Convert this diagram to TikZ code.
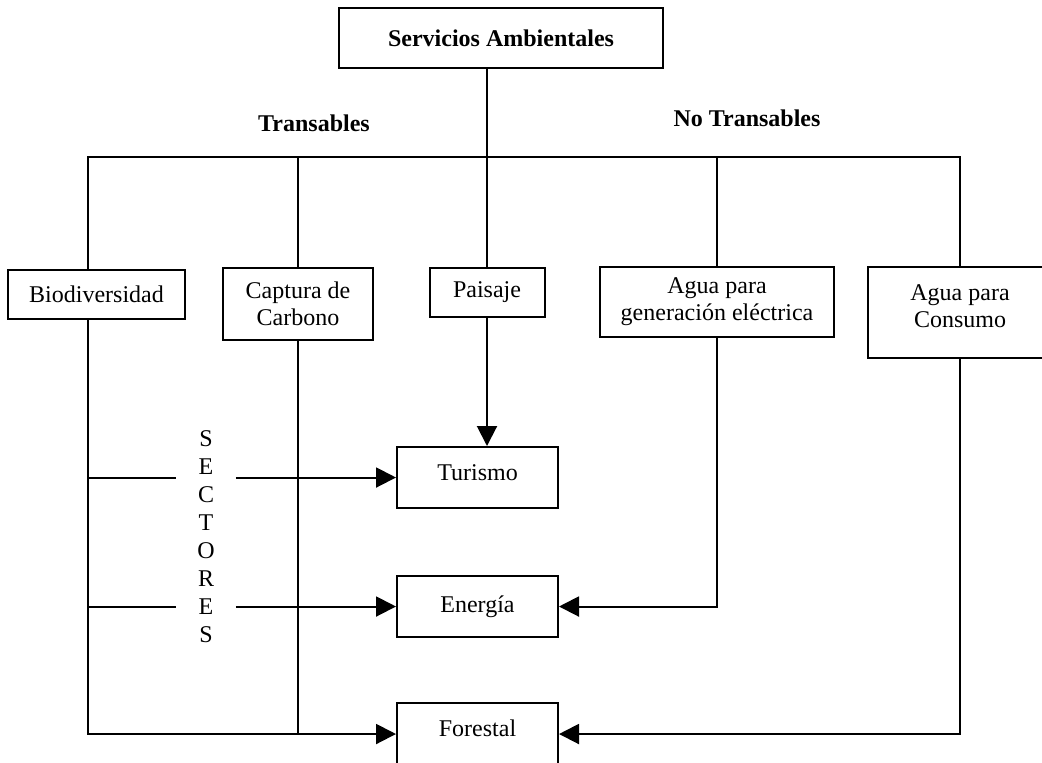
\documentclass[tikz,border=0pt]{standalone}
\usepackage{fontspec}
\setmainfont{Liberation Serif}
\usetikzlibrary{arrows.meta}

\begin{document}
\begin{tikzpicture}[x=0.5pt,y=-0.5pt,
  caja/.style={rectangle,draw=black,line width=1pt,inner sep=0pt,align=center,font=\fontsize{12}{13.5}\selectfont},
  texto/.style={inner sep=0pt,align=center,font=\fontsize{12}{14}\selectfont},
  linea/.style={black,line width=1pt},
  flecha/.style={-{Triangle[length=10pt,width=10pt]}}]
\useasboundingbox (0,0) rectangle (1042,762);
\clip (0,0) rectangle (1042,762);

\node[caja,minimum width=162pt,minimum height=30pt,font=\bfseries\fontsize{12}{14}\selectfont] (sa) at (501,38) {Servicios Ambientales};
\node[texto,font=\bfseries\fontsize{12}{14}\selectfont] (trans) at (314,123) {Transables};
\node[texto,font=\bfseries\fontsize{12}{14}\selectfont] (notrans) at (747,118) {No Transables};

\node[caja,minimum width=88.5pt,minimum height=24.5pt] (bio) at (96.5,294.5) {Biodiversidad};
\node[caja,minimum width=75pt,minimum height=36pt] (cap) at (298,304) {Captura de\\Carbono};
\node[caja,minimum width=57.5pt,minimum height=24.5pt] (pai) at (487,292.5) {Paisaje};
\node[caja,minimum width=117pt,minimum height=35pt] (agen) at (717,302) {Agua para\\generación eléctrica};
\node[caja,minimum width=92pt,minimum height=45.5pt,text depth=6pt] (acon) at (960,312.5) {Agua para\\Consumo};

\node[caja,minimum width=80.5pt,minimum height=30.5pt,text depth=5pt] (tur) at (477.5,477.5) {Turismo};
\node[caja,minimum width=80.5pt,minimum height=30.5pt] (ene) at (477.5,606.5) {Energía};
\node[caja,minimum width=80.5pt,minimum height=31pt,text depth=6pt] (for) at (477.5,734) {Forestal};
\node[texto,minimum width=29.5pt] (sec) at (206,537) {S\\E\\C\\T\\O\\R\\E\\S};

\coordinate (izq) at (88,157);
\coordinate (hub) at (487,157);
\draw[linea] (hub |- sa.south) -- (hub);
\draw[linea] (izq |- bio.north) -- (izq) -- (izq -| acon.north) -- (acon.north);
\draw[linea] (cap.north) -- (cap.north |- hub);
\draw[linea] (pai.north) -- (pai.north |- hub);
\draw[linea] (agen.north) -- (agen.north |- hub);

\draw[linea,flecha] (izq |- bio.south) |- (for.west);
\draw[linea] (izq |- tur.west) -- (sec.west |- tur.west);
\draw[linea,flecha] (sec.east |- tur.west) -- (tur.west);
\draw[linea] (izq |- ene.west) -- (sec.west |- ene.west);
\draw[linea,flecha] (sec.east |- ene.west) -- (ene.west);
\draw[linea] (cap.south) -- (cap.south |- for.west);
\draw[linea,flecha] (pai.south) -- (pai.south |- tur.north);
\draw[linea,flecha] (agen.south) |- (ene.east);
\draw[linea,flecha] (acon.south) |- (for.east);

\end{tikzpicture}
\end{document}
